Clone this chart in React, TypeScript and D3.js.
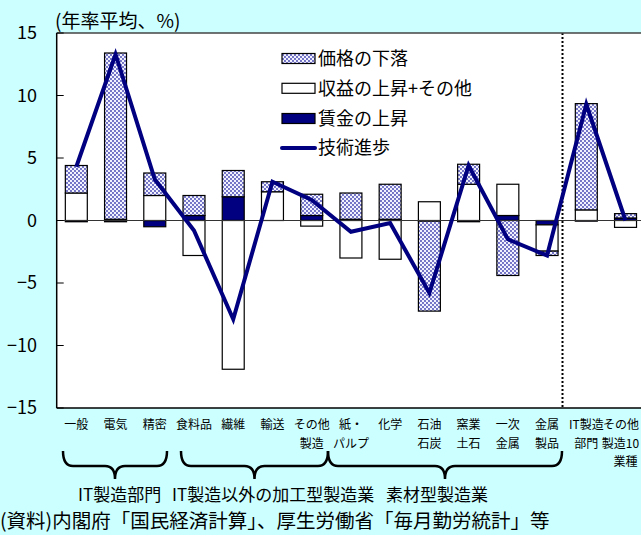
import React from "react";
import * as d3 from "d3";

// 業種
const categories = [
  "一般", "電気", "精密", "食料品", "繊維", "輸送", "その他製造",
  "紙・パルプ", "化学", "石油石炭", "窯業土石", "一次金属", "金属製品",
  "IT製造部門", "その他製造10業種",
];
// 軸ラベル(改行位置)
const categoryLines = [
  ["一般"], ["電気"], ["精密"], ["食料品"], ["繊維"], ["輸送"], ["その他", "製造"],
  ["紙・", "パルプ"], ["化学"], ["石油", "石炭"], ["窯業", "土石"], ["一次", "金属"], ["金属", "製品"],
  ["IT製造", "部門"], ["その他", "製造10", "業種"],
];
// 寄与度(年率平均、%)
const priceDecline = [2.2, 13.3, 1.8, 1.6, 2.1, 0.8, 1.7, 2.1, 2.8, -7.2, 1.6, -4.4, -0.35, 8.5, 0.35];
const profitRise = [2.2, 0.1, 2.0, -2.8, -11.9, 2.3, -0.45, -3.0, -3.1, 1.5, 2.9, 2.5, -2.1, 0.85, -0.55];
const wageRise = [-0.1, -0.1, -0.5, 0.4, 1.9, 0.0, 0.4, 0.1, 0.1, -0.05, -0.1, 0.4, -0.35, -0.05, 0.2];
const techProgress = [4.3, 13.3, 3.3, -0.8, -7.9, 3.1, 1.65, -0.9, -0.2, -5.8, 4.4, -1.5, -2.8, 9.3, 0.0];

const yTicks = [15, 10, 5, 0, -5, -10, -15];
const legendLabels = ["価格の下落", "収益の上昇+その他", "賃金の上昇", "技術進歩"];
const groupLabels = ["IT製造部門", "IT製造以外の加工型製造業", "素材型製造業"];
const sourceNote = "(資料)内閣府「国民経済計算」、厚生労働省「毎月勤労統計」等";

const W = 641;
const H = 535;
const FONT = "'Noto Sans CJK JP', 'Noto Sans', sans-serif";
const NAVY = "#000080";
const BG = "#CCFFFF";

// おおよその文字幅(全角=1em、半角≈0.55em)
const textWidth = (s: string, size: number) =>
  Array.from(s).reduce((w, ch) => w + (ch.charCodeAt(0) < 0x2000 ? 0.55 : 1) * size, 0);

export default function App() {
  const plotLeft = 56.7;
  const plotTop = 33;
  const plotBottom = 408;

  const x = d3
    .scaleBand<string>()
    .domain(categories)
    .range([plotLeft, plotLeft + 15 * 39.23])
    .paddingInner(0.44)
    .paddingOuter(0.22);
  const y = d3.scaleLinear().domain([-15, 15]).range([plotBottom, plotTop]);

  const rows = categories.map((c, i) => ({
    cat: c,
    wage: wageRise[i],
    profit: profitRise[i],
    price: priceDecline[i],
  }));
  const keys = ["wage", "profit", "price"];
  const stack = d3
    .stack<any>()
    .keys(keys)
    .offset(d3.stackOffsetDiverging);
  const series = stack(rows);
  const fills: Record<string, string> = {
    wage: NAVY,
    profit: "#FFFFFF",
    price: "url(#dots)",
  };

  const cx = (c: string) => (x(c) as number) + x.bandwidth() / 2;
  const line = d3
    .line<number>()
    .x((_, i) => cx(categories[i]))
    .y((d) => y(d));

  // 業種グループの波括弧
  const brace = (x0: number, x1: number, top: number, mid: number, tip: number) => {
    const xm = (x0 + x1) / 2;
    const r = 10;
    return `M${x0},${top} Q${x0},${mid} ${x0 + r},${mid} L${xm - r},${mid} Q${xm},${mid} ${xm},${tip} Q${xm},${mid} ${xm + r},${mid} L${x1 - r},${mid} Q${x1},${mid} ${x1},${top}`;
  };
  const braces = [
    [63, 167],
    [181, 328],
    [328, 562],
  ];

  const legendY = [58.5, 88.3, 118.5, 148];
  const labelSize = 12;

  return (
    <svg
      width={W}
      height={H}
      style={{ position: "absolute", left: 0, top: 0 }}
      fontFamily={FONT}
    >
      <defs>
        <pattern id="dots" width="4" height="4" patternUnits="userSpaceOnUse">
          <rect width="4" height="4" fill="#F2F2FF" />
          <circle cx="1" cy="1" r="0.9" fill="#3A3AAE" />
          <circle cx="3" cy="3" r="0.9" fill="#3A3AAE" />
        </pattern>
      </defs>
      <rect width={W} height={H} fill={BG} />
      <rect x={plotLeft} y={plotTop} width={W - plotLeft} height={plotBottom - plotTop} fill="#FFFFFF" />

      {/* 積み上げ棒 */}
      {series.map((s) => (
        <g key={s.key}>
          {s.map((d, i) => {
            const y0 = y(d[0]);
            const y1 = y(d[1]);
            const h = Math.abs(y0 - y1);
            if (h < 0.01) return null;
            return (
              <rect
                key={i}
                x={x(categories[i])}
                y={Math.min(y0, y1)}
                width={x.bandwidth()}
                height={h}
                fill={fills[s.key]}
                stroke="#000"
                strokeWidth={1.2}
              />
            );
          })}
        </g>
      ))}

      {/* ゼロ線 */}
      <line x1={plotLeft} x2={W} y1={y(0)} y2={y(0)} stroke="#333" strokeWidth={1.2} />

      {/* 区切り線 */}
      <line x1={562.5} x2={562.5} y1={plotTop} y2={plotBottom} stroke="#000" strokeWidth={2} strokeDasharray="2,2" />

      {/* 技術進歩 */}
      <path d={line(techProgress) || ""} fill="none" stroke={NAVY} strokeWidth={4} />

      {/* 枠と目盛 */}
      <line x1={plotLeft} x2={W} y1={plotTop} y2={plotTop} stroke="#444" strokeWidth={1.5} />
      <line x1={plotLeft} x2={W} y1={plotBottom} y2={plotBottom} stroke="#000" strokeWidth={1.5} />
      <line x1={plotLeft} x2={plotLeft} y1={plotTop} y2={plotBottom} stroke="#000" strokeWidth={1.5} />
      {yTicks.map((t) => (
        <g key={t}>
          <line x1={plotLeft} x2={plotLeft + 7} y1={y(t)} y2={y(t)} stroke="#000" strokeWidth={1} />
          <text x={37} y={y(t)} dy="0.35em" textAnchor="end" fontSize={18} fill="#000">
            {t < 0 ? "−" + Math.abs(t) : String(t)}
          </text>
        </g>
      ))}
      <text x={55} y={28} fontSize={19} fill="#000">(年率平均、%)</text>

      {/* 凡例 */}
      {legendLabels.map((lab, i) => (
        <g key={lab}>
          {i < 3 ? (
            <rect
              x={282}
              y={legendY[i] - 5}
              width={33}
              height={10}
              fill={[fills.price, fills.profit, fills.wage][i]}
              stroke="#000"
              strokeWidth={1.2}
            />
          ) : (
            <line x1={282} x2={315} y1={legendY[i]} y2={legendY[i]} stroke={NAVY} strokeWidth={4} strokeLinecap="round" />
          )}
          <text x={318} y={legendY[i]} dy="0.36em" fontSize={18} fill="#000">{lab}</text>
        </g>
      ))}

      {/* 業種ラベル */}
      {categoryLines.map((lines, i) => (
        <text key={i} textAnchor="middle" fontSize={labelSize} fill="#000">
          {lines.map((l, j) => {
            const half = textWidth(l, labelSize) / 2;
            const lx = Math.min(cx(categories[i]), W - 2 - half);
            return (
              <tspan key={j} x={lx} y={429 + j * 18.5}>{l}</tspan>
            );
          })}
        </text>
      ))}

      {braces.map(([a, b], i) => (
        <path key={i} d={brace(a, b, 451, 466, 479)} fill="none" stroke="#000" strokeWidth={2.5} />
      ))}

      <text y={501} fontSize={17} fill="#000">
        <tspan x={78}>{groupLabels[0]}</tspan>
        <tspan x={172}>{groupLabels[1]}</tspan>
        <tspan x={386}>{groupLabels[2]}</tspan>
      </text>
      <text x={0} y={528} fontSize={19.5} fill="#000">{sourceNote}</text>
    </svg>
  );
}
